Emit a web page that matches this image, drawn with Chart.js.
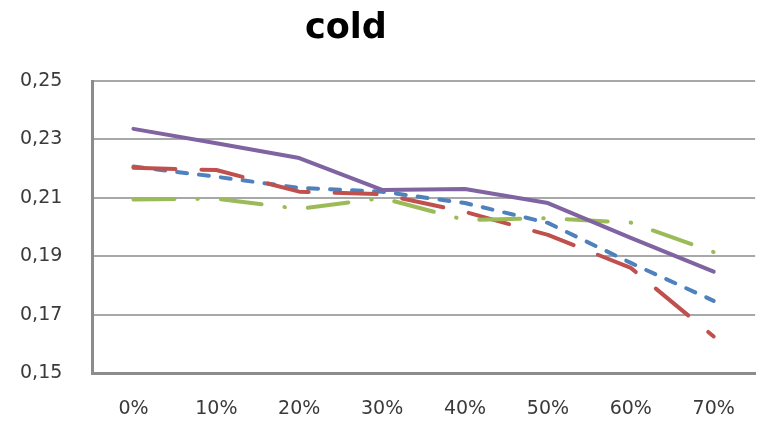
<!DOCTYPE html>
<html>
<head>
<meta charset="utf-8">
<script src="https://cdn.jsdelivr.net/npm/chart.js@4"></script>
<style>
  html, body { margin: 0; padding: 0; background: #fff; }
  #wrap { width: 760px; height: 426px; position: relative; }
</style>
</head>
<body>
<div id="wrap"><canvas id="c" width="760" height="426"></canvas></div>
<script>
const titleText = 'cold';
const categories = ['0%', '10%', '20%', '30%', '40%', '50%', '60%', '70%'];
const yTicks = [0.15, 0.17, 0.19, 0.21, 0.23, 0.25];
const seriesBlue   = [0.2207, 0.2172, 0.2134, 0.2121, 0.2082, 0.2014, 0.1877, 0.1747];
const seriesRed    = [0.2203, 0.2195, 0.2121, 0.2112, 0.2052, 0.1973, 0.1860, 0.1625];
const seriesGreen  = [0.2094, 0.2097, 0.2062, 0.2099, 0.2024, 0.2030, 0.2015, 0.1914];
const seriesPurple = [0.2336, 0.2287, 0.2236, 0.2127, 0.2130, 0.2082, 0.1963, 0.1847];

const titleShift = {
  id: 'titleShift',
  afterLayout(chart) {
    const tb = chart.titleBlock;
    if (tb) { tb.left = 0; tb.right = 692; }
  }
};

const common = { pointRadius: 0, pointHoverRadius: 0, borderWidth: 4, fill: false,
  tension: 0, borderCapStyle: 'round', borderJoinStyle: 'round' };

new Chart(document.getElementById('c'), {
  type: 'line',
  data: {
    labels: categories,
    datasets: [
      Object.assign({ label: 'S1', data: seriesBlue, borderColor: '#4F81BD', borderDash: [10, 12], order: 3 }, common),
      Object.assign({ label: 'S2', data: seriesRed, borderColor: '#C0504D', borderDash: [42, 26], order: 2 }, common),
      Object.assign({ label: 'S3', data: seriesGreen, borderColor: '#9BBB59', borderDash: [41, 23, 0.5, 23], order: 1 }, common),
      Object.assign({ label: 'S4', data: seriesPurple, borderColor: '#8064A2', borderDash: [], order: 0 }, common)
    ]
  },
  options: {
    responsive: false,
    animation: false,
    layout: { padding: { left: 20, right: 3, top: 0, bottom: 0 } },
    plugins: {
      legend: { display: false },
      tooltip: { enabled: false },
      title: {
        display: true,
        text: titleText,
        color: '#000',
        font: { family: 'DejaVu Sans', size: 35, weight: 'bold', lineHeight: 1.2 },
        padding: { top: 8, bottom: 31 }
      }
    },
    scales: {
      x: {
        offset: true,
        grid: { display: false, drawTicks: false },
        border: { display: true, color: '#8c8c8c', width: 3 },
        ticks: { color: '#3a3a3a', font: { family: 'DejaVu Sans', size: 19 }, padding: 25, maxRotation: 0 },
        afterFit(s) { s.height = 53; }
      },
      y: {
        min: 0.15, max: 0.25,
        afterBuildTicks(s) { s.ticks = yTicks.map(v => ({ value: v })); },
        grid: { color: '#a8a8a8', lineWidth: 2, drawTicks: false },
        border: { display: true, color: '#8c8c8c', width: 3 },
        ticks: {
          color: '#3a3a3a', font: { family: 'DejaVu Sans', size: 19 }, padding: 0,
          crossAlign: 'far',
          callback: v => v.toFixed(2).replace('.', ',')
        },
        afterFit(s) { s.width = 72; }
      }
    }
  },
  plugins: [titleShift]
});
</script>
</body>
</html>
